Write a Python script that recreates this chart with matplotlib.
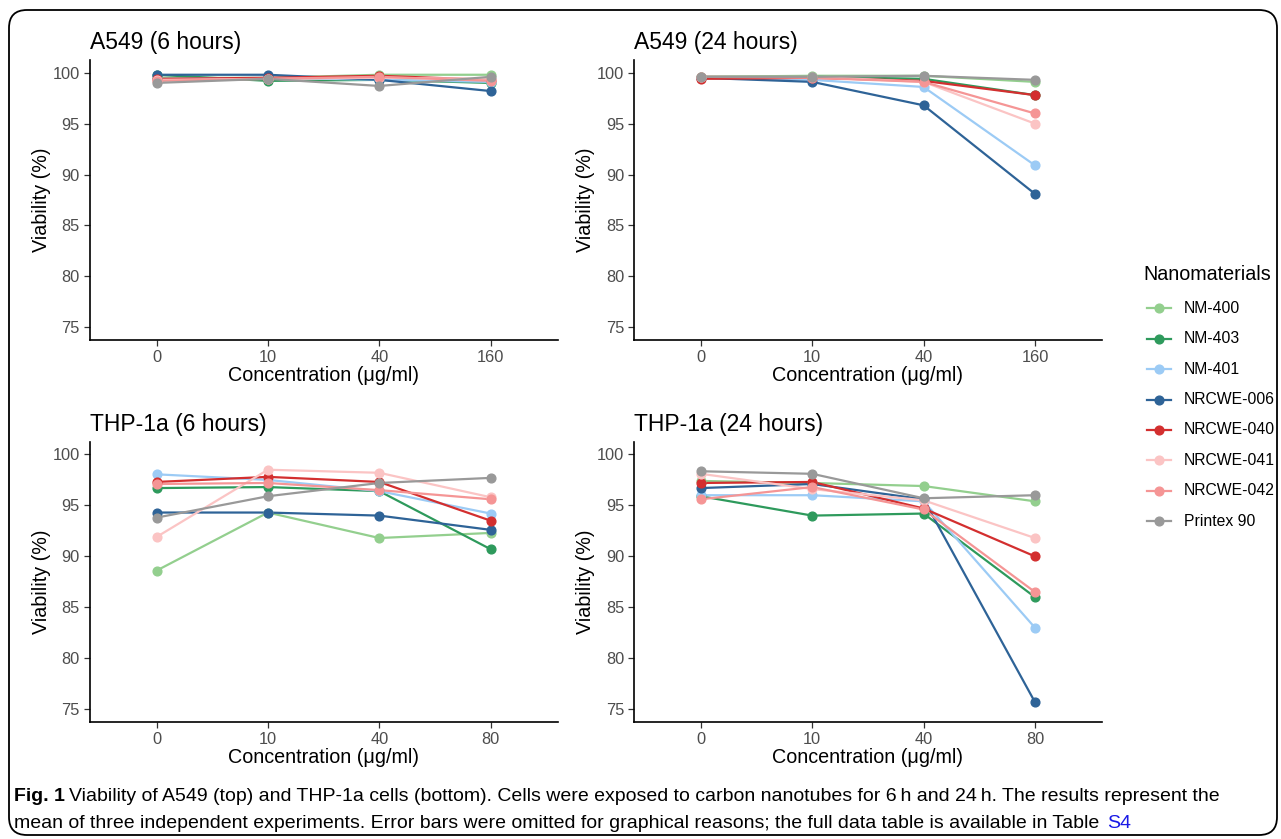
import matplotlib
matplotlib.use("Agg")
import matplotlib.pyplot as plt
from matplotlib.lines import Line2D
from matplotlib.patches import FancyBboxPatch

# ---------------- data ----------------
materials = ["NM-400", "NM-403", "NM-401", "NRCWE-006", "NRCWE-040",
             "NRCWE-041", "NRCWE-042", "Printex 90"]
colors = ["#93CF8E", "#2E9A5C", "#9CCBF5", "#2E6397", "#D32F2F",
          "#FBC4C4", "#F59595", "#999999"]

conc_a549 = ["0", "10", "40", "160"]
conc_thp = ["0", "10", "40", "80"]

a549_6h = [
    [99.5, 99.5, 99.8, 99.8],
    [99.8, 99.2, 99.3, 99.0],
    [99.4, 99.5, 99.3, 99.1],
    [99.8, 99.8, 99.3, 98.2],
    [99.4, 99.5, 99.7, 99.3],
    [99.3, 99.4, 99.5, 99.4],
    [99.2, 99.4, 99.6, 99.2],
    [99.0, 99.4, 98.7, 99.6],
]
a549_24h = [
    [99.6, 99.7, 99.7, 99.1],
    [99.6, 99.6, 99.4, 97.8],
    [99.5, 99.3, 98.6, 90.9],
    [99.5, 99.1, 96.8, 88.1],
    [99.4, 99.5, 99.2, 97.8],
    [99.6, 99.6, 99.1, 95.0],
    [99.6, 99.5, 99.1, 96.0],
    [99.6, 99.6, 99.7, 99.3],
]
thp_6h = [
    [88.6, 94.3, 91.8, 92.3],
    [96.7, 96.8, 96.4, 90.7],
    [98.05, 97.5, 96.4, 94.2],
    [94.3, 94.3, 94.0, 92.6],
    [97.3, 97.8, 97.3, 93.5],
    [91.9, 98.5, 98.2, 95.8],
    [97.1, 97.2, 96.5, 95.6],
    [93.8, 95.9, 97.2, 97.7],
]
thp_24h = [
    [97.4, 97.2, 96.9, 95.4],
    [95.9, 94.0, 94.2, 86.0],
    [96.0, 96.0, 95.4, 83.0],
    [96.7, 97.1, 95.6, 75.7],
    [97.2, 97.3, 94.7, 90.0],
    [98.1, 96.6, 95.5, 91.8],
    [95.6, 96.8, 94.6, 86.5],
    [98.35, 98.1, 95.7, 96.0],
]
titles = ["A549 (6 hours)", "A549 (24 hours)", "THP-1a (6 hours)", "THP-1a (24 hours)"]
yticks = [75, 80, 85, 90, 95, 100]

# ---------------- figure ----------------
W, H = 1281, 839
plt.rcParams["font.family"] = ["Liberation Sans", "DejaVu Sans"]
fig = plt.figure(figsize=(W / 100, H / 100), dpi=100)


def px_axes(l, t, r, b):
    return fig.add_axes([l / W, 1 - b / H, (r - l) / W, (b - t) / H])


boxes = [
    (89.7, 60, 557.5, 340),
    (634, 60, 1101.8, 340),
    (89.7, 441.7, 557.5, 722),
    (634, 441.7, 1101.8, 722),
]
panels = [(a549_6h, conc_a549), (a549_24h, conc_a549),
          (thp_6h, conc_thp), (thp_24h, conc_thp)]

for (l, t, r, b), (vals, concs), title in zip(boxes, panels, titles):
    ax = px_axes(l, t, r, b)
    x = list(range(len(concs)))
    for v, c in zip(vals, colors):
        ax.plot(x, v, color=c, lw=1.6, zorder=2, solid_capstyle="butt")
    for v, c in zip(vals, colors):
        ax.plot(x, v, linestyle="none", marker="o", ms=6.3, color=c,
                mec=c, zorder=3)
    ax.set_xlim(-0.6, len(concs) - 0.4)
    ax.set_ylim(73.75, 101.25)
    ax.set_xticks(x)
    ax.set_xticklabels(concs)
    ax.set_yticks(yticks)
    ax.set_yticklabels([str(t_) for t_ in yticks])
    for s in ["top", "right"]:
        ax.spines[s].set_visible(False)
    for s in ["left", "bottom"]:
        ax.spines[s].set_linewidth(1.2)
        ax.spines[s].set_color("black")
    ax.tick_params(axis="both", length=4, width=0.9, color="#333333",
                   labelsize=11.8, labelcolor="#4D4D4D", pad=3)
    ax.set_xlabel("Concentration (μg/ml)", fontsize=14.2, color="black",
                  labelpad=1)
    ax.set_ylabel("Viability (%)", fontsize=14.2, color="black", labelpad=1.5)
    ax.set_title(title, loc="left", fontsize=16.5, color="black", pad=8)

# ---------------- legend (manual) ----------------
fig.text(1143 / W, 1 - 274 / H, "Nanomaterials", fontsize=14.2,
         va="center", ha="left")
y0, dy = 308.3, 30.4
for i, (name, c) in enumerate(zip(materials, colors)):
    yy = 1 - (y0 + i * dy) / H
    fig.add_artist(Line2D([1146.5 / W, 1171 / W], [yy, yy], color=c, lw=1.6,
                          transform=fig.transFigure))
    fig.add_artist(Line2D([1158.5 / W], [yy], marker="o", ms=6.3, color=c,
                          mec=c, linestyle="none", transform=fig.transFigure))
    fig.text(1184 / W, yy, name, fontsize=11.3, va="center", ha="left",
             color="black")

# ---------------- border ----------------
border = FancyBboxPatch((9 / W, 1 - 835 / H), (1277 - 9) / W, (835 - 10) / H,
                        boxstyle="round,pad=0,rounding_size=0.014",
                        transform=fig.transFigure, fill=False,
                        ec="black", lw=1.3, mutation_aspect=W / H)
fig.add_artist(border)

# ---------------- caption ----------------
cap_font = ["Liberation Sans", "DejaVu Sans"]
renderer = fig.canvas.get_renderer()


def put(x_px, y_px, s, **kw):
    t = fig.text(x_px / W, 1 - y_px / H, s, va="baseline", ha="left",
                 fontsize=14, family=cap_font, **kw)
    bb = t.get_window_extent(renderer=renderer)
    return x_px + bb.width


xx = put(14, 801, "Fig. 1", weight="bold")
put(xx + 4, 801, "Viability of A549 (top) and THP-1a cells (bottom). Cells were "
    "exposed to carbon nanotubes for 6\u2009h and 24\u2009h. The results represent the")
xx = put(14, 828, "mean of three independent experiments. Error bars were omitted "
         "for graphical reasons; the full data table is available in Table ")
put(xx + 2, 828, "S4", color="#1A1AE6")

fig.savefig("out.png", dpi=100)
